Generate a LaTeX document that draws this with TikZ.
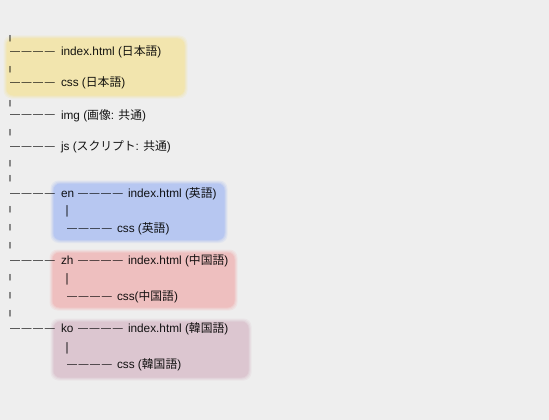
\documentclass[tikz,border=0pt]{standalone}
\usepackage{fontspec}
\setmainfont{Liberation Sans}
\newfontfamily\cjk{Noto Sans CJK JP}
\definecolor{bg}{HTML}{EEEEEE}
\definecolor{ink}{HTML}{161616}
\definecolor{hlyellow}{HTML}{F2E5AE}
\definecolor{hlblue}{HTML}{B7C7F1}
\definecolor{hlred}{HTML}{EEBFBF}
\definecolor{hlpurple}{HTML}{DCC6D0}
\newcommand{\dashgroup}{{\fontsize{10pt}{10pt}\selectfont —\kern1.6pt—\kern1.6pt—\kern1.6pt—}}
\newcommand{\shortbar}{\resizebox*{\width}{6.5pt}{|}}
\newcommand{\tallbar}{\resizebox*{\width}{11.5pt}{|}}
\newcommand{\softbox}[5]{%
  \foreach \e/\o in {2.5/0.22,1.5/0.3,0.5/0.45}{%
    \fill[#1, opacity=\o, rounded corners=8] ({#2-\e},{#3-\e}) rectangle ({#4+\e},{#5+\e});}
  \fill[#1, rounded corners=7] ({#2+0.5},{#3+0.5}) rectangle ({#4-0.5},{#5-0.5});}
\tikzset{
  lbl/.style={anchor=base west, inner sep=0pt, outer sep=0pt, text=ink,
    font=\fontsize{11.8pt}{13pt}\selectfont},
  dashes/.style={anchor=base west, inner sep=0pt, outer sep=0pt, text=ink},
  barmark/.style={anchor=center, inner sep=0pt, outer sep=0pt, text=ink,
    font=\fontsize{11.5pt}{13pt}\selectfont},
}
\begin{document}
\begin{tikzpicture}[x=1pt, y=-1pt]
\fill[bg] (0,0) rectangle (549,420);
\useasboundingbox (0,0) rectangle (549,420);
% highlight boxes
\softbox{hlyellow}{6}{38}{185}{96}
\softbox{hlblue}{53}{183}{225}{240.5}
\softbox{hlred}{52}{252}{235}{308}
\softbox{hlpurple}{53}{321}{249}{378}
\begin{scope}[blend mode=multiply]
% left vertical bars
\node[barmark] (b1) at (10,39) {\shortbar};
\node[barmark] (b2) at (10,70) {\shortbar};
\node[barmark] (b3) at (10,104) {\shortbar};
\node[barmark] (b4) at (10,132.5) {\shortbar};
\node[barmark] (b5) at (10,163.5) {\shortbar};
\node[barmark] (b6) at (10,178.5) {\shortbar};
\node[barmark] (b7) at (10,210) {\shortbar};
\node[barmark] (b8) at (10,228) {\shortbar};
\node[barmark] (b9) at (10,246) {\shortbar};
\node[barmark] (b10) at (10,278) {\shortbar};
\node[barmark] (b11) at (10,295.7) {\shortbar};
\node[barmark] (b12) at (10,313.5) {\shortbar};
% inner vertical bars
\node[barmark] (ib1) at (67,211) {\tallbar};
\node[barmark] (ib2) at (67,279.5) {\tallbar};
\node[barmark] (ib3) at (67,348) {\tallbar};
% row 1
\node[dashes] (d1) at (10,54.4) {\dashgroup};
\node[lbl] (t1) at (61,55.7) {index.html ({\cjk 日本語})};
% row 2
\node[dashes] (d2) at (10,85.4) {\dashgroup};
\node[lbl] (t2) at (61,86.7) {css ({\cjk 日本語})};
% row 3
\node[dashes] (d3) at (10,117.7) {\dashgroup};
\node[lbl] (t3) at (61,119) {img ({\cjk 画像}: {\cjk 共通})};
% row 4
\node[dashes] (d4) at (10,149.4) {\dashgroup};
\node[lbl] (t4) at (61,150.7) {js ({\cjk スクリプト}: {\cjk 共通})};
% en
\node[dashes] (d5) at (10,196) {\dashgroup};
\node[lbl] (en) at (61,197.3) {en};
\node[dashes] (d5b) at (78,196) {\dashgroup};
\node[lbl] (t5) at (128,197.3) {index.html ({\cjk 英語})};
\node[dashes] (d6) at (67,231) {\dashgroup};
\node[lbl] (t6) at (117,232.3) {css ({\cjk 英語})};
% zh
\node[dashes] (d7) at (10,263.5) {\dashgroup};
\node[lbl] (zh) at (61,264.8) {zh};
\node[dashes] (d7b) at (78,263.5) {\dashgroup};
\node[lbl] (t7) at (128,264.8) {index.html ({\cjk 中国語})};
\node[dashes] (d8) at (67,299) {\dashgroup};
\node[lbl] (t8) at (117,300.3) {css({\cjk 中国語})};
% ko
\node[dashes] (d9) at (10,331.4) {\dashgroup};
\node[lbl] (ko) at (61,332.7) {ko};
\node[dashes] (d9b) at (78,331.4) {\dashgroup};
\node[lbl] (t9) at (128,332.7) {index.html ({\cjk 韓国語})};
\node[dashes] (d10) at (67,367.4) {\dashgroup};
\node[lbl] (t10) at (117,368.7) {css ({\cjk 韓国語})};
\end{scope}
\end{tikzpicture}
\end{document}
